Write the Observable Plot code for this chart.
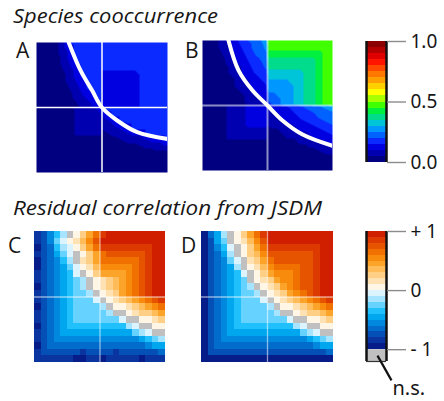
<!DOCTYPE html>
<html><head><meta charset="utf-8">
<script src="https://cdn.jsdelivr.net/npm/d3@7"></script>
<script src="https://cdn.jsdelivr.net/npm/@observablehq/plot@0.6"></script>
<style>
html,body{margin:0;padding:0;background:#fff;}
#fig{position:relative;width:444px;height:401px;overflow:hidden;font-family:"Open Sans",sans-serif;color:#161616;}
.box{position:absolute;line-height:0;}
.box svg{overflow:visible;}
</style></head><body><div id="fig"></div>
<script>
// ---------------- data ----------------
const titles = ["Species cooccurrence", "Residual correlation from JSDM"];
const panelLabels = ["A", "B", "C", "D"];

// sample positions (fraction of axis) of the cooccurrence grids (columns left->right, rows bottom->top)
const gridPos = [0,.05,.1,.15,.2,.25,.3,.35,.4,.45,.495,.505,.55,.6,.65,.7,.75,.8,.85,.9,.95,1];
// cooccurrence probability, base-36 digit / 60, rows from top (y=1) to bottom (y=0)
const coocA = [
"00025aaaaaaaaaaaaaaaaa",
"000257aaaaaaaaaaaaaaaa",
"000247aaaaaaaaaaaaaaaa",
"000146aaaaaaaaaaaaaaaa",
"0001357aaaaaaaaaaaaaaa",
"0000247aaaa777777aaaaa",
"00002468aaa777777aaaaa",
"00001357aaa777777aaaaa",
"000012467aa777777aaaaa",
"0000023568a777777aaaaa",
"00000124578777777aaaaa",
"00000144568aaaaaaaaaaa",
"0000004445678aaaaaaaaa",
"00000044445567aaaaaaaa",
"0000004444445678aaaaaa",
"000000444442345677aaaa",
"000000000011223445677a",
"0000000000000112234455",
"0000000000000000011222",
"0000000000000000000000",
"0000000000000000000000",
"0000000000000000000000"];
const coocB = [
"002468acdfhttttttttttt",
"0024579bdegsssssssssst",
"0013568acdfqqqqqqqqqst",
"00124679bcennnnnnnnqst",
"00023568abdmmmmmmmnqst",
"000134679abkkkkkkmnqst",
"0001235689aiiiiikmnqst",
"00001345789hhhhikmnqst",
"00001234678fffhikmnqst",
"00000124567ddfhikmnqst",
"00000023456adfhikmnqst",
"000044477776789abdefgh",
"0000444777756789abcdef",
"00004447777456789abcde",
"0000444777734456789abc",
"000044444442234566789a",
"0000444444401233456678",
"0000000000000112334556",
"0000000000000001122344",
"0000000000000000001122",
"0000000000000000000000",
"0000000000000000000000"];
// white threshold curves (fractions)
const curveAx = [0.246, 0.336, 0.425, 0.5, 0.616, 0.769, 1.0];
const curveAy = [1.0, 0.785, 0.63, 0.5, 0.4, 0.31, 0.258];
const curveBx = [0.2, 0.277, 0.385, 0.5, 0.615, 0.77, 1.0];
const curveBy = [1.0, 0.77, 0.615, 0.5, 0.385, 0.277, 0.19];

// residual correlation classes: a..j = -1..0 (10 bins), k..t = 0..+1, "." = n.s.
const residC = [
"bcegi.kmoqsttttttttt",
"bcehjklnprtttttttttt",
"acdgijkmoqsssssssstt",
"bcdfhj.kmoqrrrrrrstt",
"acdegi.lmoqqqqqqrstt",
"acdefhjklnpppppqrstt",
"bcdefgj.kmoooopqrstt",
"bcdefghi.klmnopqrstt",
"acdefghi.klmnopqrstt",
"bcdefghhi.klmopqrstt",
"bcdefghhhj.klmnopqrs",
"acdefghhhhi.kklmnopq",
"bcdefghhhhhi..klmmno",
"bcdefghhhhhhhj..kklm",
"acdefgggggggggij..kk",
"bcdefffffffffffhij..",
"bcdeeeeeeeeeeeeefghi",
"acdddddddddddddddeff",
"bccccccbccccbccccccd",
"bbbbbbaabbabbbbbabbb"];
const residD = [
"adfi.kmoqstttttttttt",
"acfh.klnprtttttttttt",
"acegj.kmoqsssssssstt",
"acdfi.kmnprrrrrrrstt",
"acdehj.lmoqrrrrrrstt",
"acdefi.klnpqqqqrrstt",
"acdefgj.kmopppqrrstt",
"acdefgh.klmoppqrrstt",
"acdefghi.klmopqrrstt",
"acdefghhi.klmopqrstt",
"acdefghhhj.klmnopqrs",
"acdefghhhhi.kklmnopq",
"acdefghhhhhi..klmmno",
"acdefghhhhhhhj..kklm",
"acdefgggggggggij..kk",
"acdefffffffffffhij..",
"acdeeeeeeeeeeeeefghi",
"acdddddddddddddddeff",
"accccccccccccccccccd",
"aaaaaaaaaaaaaaaaaaaa"];

const jetColors = ["#000080","#0000b0","#0000e0","#0a2aff","#0062ff","#0098ff","#00c4d8","#00dc8c","#00f040","#40ff00",
  "#a8ff00","#ffff00","#ffd000","#ffa000","#ff7800","#ff4800","#ff1400","#e00000","#b40000","#8b0000"];
const corrColors = ["#061c88","#0a34a0","#0450b6","#026ccc","#0088de","#00a6ee","#20c0fc","#66d2ff","#a6e4ff","#dcf4ff",
  "#fff6e6","#ffe2b4","#ffcf86","#ffbc58","#fca42a","#f88a0c","#f07000","#e65400","#dc3a00","#d01e00"];
const nsColor = "#c0c0c0";
const ticks1 = [0, 0.5, 1], tickLabels1 = ["0.0", "0.5", "1.0"];
const ticks2 = [-1, 0, 1], tickLabels2 = ["- 1", "0", "+ 1"];
const nsLabel = "n.s.";

// ---------------- drawing ----------------
const fig = document.getElementById("fig");
const jetThresholds = d3.range(1, 20).map(k => k / 20);
const corrThresholds = d3.range(1, 20).map(k => (k - 10) / 10);

function place(el, left, top) {
  const d = document.createElement("div");
  d.className = "box"; d.style.left = left + "px"; d.style.top = top + "px";
  d.appendChild(el); fig.appendChild(d);
}
function check(rows, n) { rows.forEach((r, i) => { if (r.length !== n) throw new Error("row " + i + " length " + r.length); }); }

function coocPanel(rows, cx, cy, crossOpacity, crossWidth, w, h) {
  check(rows, gridPos.length);
  const pts = [];
  rows.forEach((row, r) => {
    const y = gridPos[rows.length - 1 - r];
    for (let i = 0; i < row.length; i++) pts.push({x: gridPos[i], y, v: parseInt(row[i], 36) / 60});
  });
  const curve = cx.map((x, k) => ({x, y: cy[k]}));
  return Plot.plot({
    width: w, height: h, margin: 0,
    x: {domain: [0, 1], axis: null}, y: {domain: [0, 1], axis: null},
    color: {type: "threshold", domain: jetThresholds, range: jetColors},
    marks: [
      Plot.raster(pts, {x: "x", y: "y", fill: "v", interpolate: "barycentric", x1: 0, y1: 0, x2: 1, y2: 1, pixelSize: 1}),
      Plot.ruleX([0.5], {stroke: "white", strokeOpacity: crossOpacity, strokeWidth: crossWidth}),
      Plot.ruleY([0.5], {stroke: "white", strokeOpacity: crossOpacity, strokeWidth: crossWidth}),
      Plot.line(curve, {x: "x", y: "y", stroke: "white", strokeWidth: 4, curve: "catmull-rom", clip: true})
    ]
  });
}

function corrPanel(rows, w, h) {
  check(rows, 20);
  const cells = [], ns = [];
  rows.forEach((row, r) => {
    for (let i = 0; i < row.length; i++) {
      const c = row[i], d = {i, j: rows.length - 1 - r};
      if (c === ".") ns.push(d); else { d.v = (c.charCodeAt(0) - 97 - 9.5) / 10; cells.push(d); }
    }
  });
  const n = rows.length;
  return Plot.plot({
    width: w, height: h, margin: 0,
    x: {domain: [0, n], axis: null}, y: {domain: [0, n], axis: null},
    color: {type: "threshold", domain: corrThresholds, range: corrColors},
    marks: [
      Plot.rect(cells, {x1: "i", x2: d => d.i + 1, y1: "j", y2: d => d.j + 1, fill: "v", shapeRendering: "crispEdges"}),
      Plot.rect(ns, {x1: "i", x2: d => d.i + 1, y1: "j", y2: d => d.j + 1, fill: nsColor, shapeRendering: "crispEdges"}),
      Plot.ruleX([n / 2], {stroke: "white", strokeOpacity: 0.55, strokeWidth: 1.3}),
      Plot.ruleY([n / 2], {stroke: "white", strokeOpacity: 0.55, strokeWidth: 1.3})
    ]
  });
}

place(coocPanel(coocA, curveAx, curveAy, 1, 1.5, 131, 130), 36, 42);
place(coocPanel(coocB, curveBx, curveBy, 0.55, 2, 130, 130), 202, 40);
place(corrPanel(residC, 131, 131), 34, 231);
place(corrPanel(residD, 132, 131), 201, 231);

// colour bar 1
const fmt1 = new Map(ticks1.map((t, i) => [t, tickLabels1[i]]));
place(Plot.plot({
  width: 80, height: 151, marginTop: 15, marginBottom: 15, marginLeft: 2, marginRight: 58,
  x: {domain: [0, 1], axis: null}, y: {domain: [0, 1], axis: null},
  color: {type: "threshold", domain: jetThresholds, range: jetColors},
  marks: [
    Plot.rect(jetColors.map((c, k) => ({lo: k / 20, hi: (k + 1) / 20, v: (k + 0.5) / 20})), {x1: 0, x2: 1, y1: "lo", y2: "hi", fill: "v", shapeRendering: "crispEdges"}),
    Plot.ruleX([0, 1], {stroke: "#111", strokeWidth: 2.5}),
    Plot.axisY(ticks1, {anchor: "right", tickSize: 19, tickPadding: 5, tickFormat: d => fmt1.get(d), fontSize: 19, stroke: "#8c8c8c", strokeWidth: 1.4, fill: "#161616", label: null})
  ]
}), 364, 26);

// colour bar 2
const fmt2 = new Map(ticks2.map((t, i) => [t, tickLabels2[i]]));
place(Plot.plot({
  width: 82, height: 185, marginTop: 15, marginBottom: 40, marginLeft: 4, marginRight: 58,
  x: {domain: [0, 1], axis: null}, y: {domain: [-1.2, 1], axis: null},
  color: {type: "threshold", domain: corrThresholds, range: corrColors},
  marks: [
    Plot.rect(corrColors.map((c, k) => ({lo: -1 + k / 10, hi: -1 + (k + 1) / 10, v: -0.95 + k / 10})), {x1: 0, x2: 1, y1: "lo", y2: "hi", fill: "v", shapeRendering: "crispEdges"}),
    Plot.rect([{lo: -1.2, hi: -1}], {x1: 0, x2: 1, y1: "lo", y2: "hi", fill: nsColor}),
    Plot.ruleY([-1.2], {stroke: "#333", strokeWidth: 1.2}),
    Plot.ruleX([0, 1], {stroke: "#111", strokeWidth: 2.5}),
    Plot.axisY(ticks2, {anchor: "right", tickSize: 19, tickPadding: 5, tickFormat: d => fmt2.get(d), fontSize: 19, stroke: "#8c8c8c", strokeWidth: 1.4, fill: "#161616", label: null}),
    Plot.link([nsLabel], {x1: 0.55, y1: -1.1, x2: 1.25, y2: -1.52, stroke: "#111", strokeWidth: 2.2, clip: false}),
    Plot.text([nsLabel], {x: 1.3, y: -1.66, text: d => d, textAnchor: "start", fontSize: 20, fill: "#161616", clip: false})
  ]
}), 362, 216);

// titles and panel letters
const ov = d3.create("svg").attr("width", 444).attr("height", 401)
  .style("position", "absolute").style("left", "0px").style("top", "0px")
  .attr("font-family", "'Open Sans', sans-serif").attr("fill", "#161616");
ov.append("text").attr("x", 13).attr("y", 23).attr("font-size", 20).attr("font-style", "italic")
  .attr("textLength", 205).attr("lengthAdjust", "spacingAndGlyphs").text(titles[0]);
ov.append("text").attr("x", 13).attr("y", 215).attr("font-size", 20).attr("font-style", "italic")
  .attr("textLength", 309).attr("lengthAdjust", "spacingAndGlyphs").text(titles[1]);
const lp = [[16, 58], [185, 58], [8, 253], [181, 253]];
panelLabels.forEach((t, k) => ov.append("text").attr("x", lp[k][0]).attr("y", lp[k][1]).attr("font-size", 21).text(t));
fig.appendChild(ov.node());
</script></body></html>
